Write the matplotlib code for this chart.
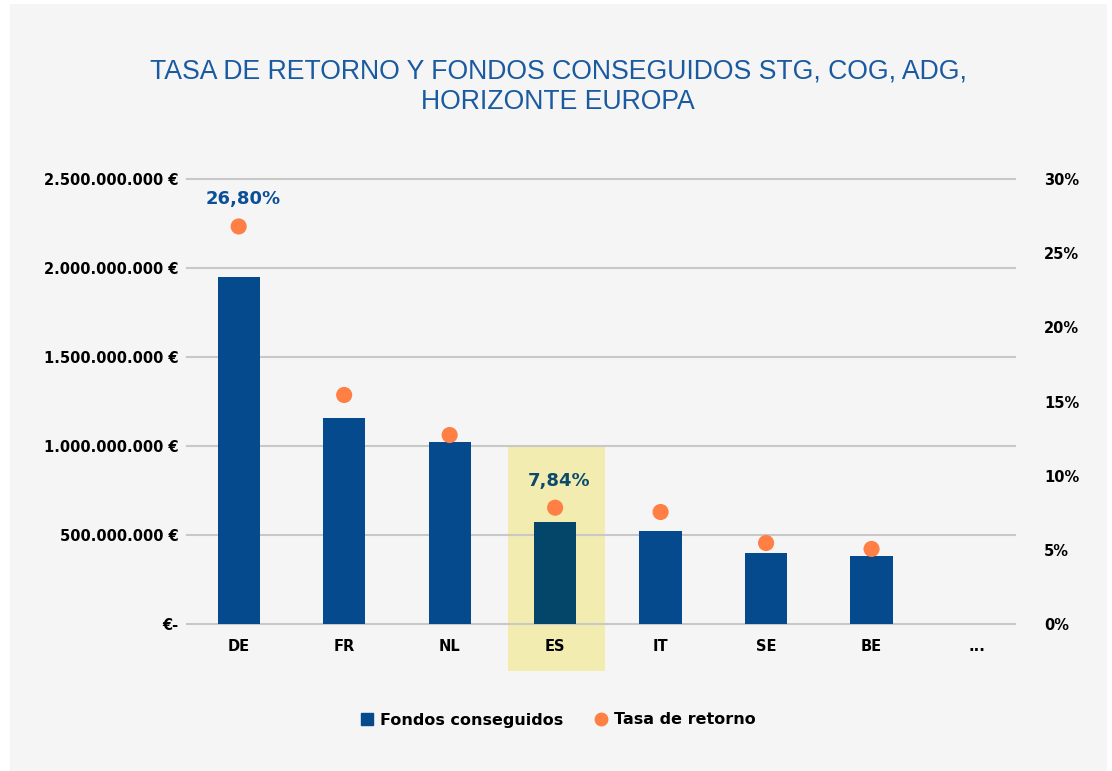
import matplotlib.pyplot as plt
import numpy as np
from matplotlib.patches import Rectangle
from matplotlib.lines import Line2D
from matplotlib.ticker import FuncFormatter

paises = ['DE', 'FR', 'NL', 'ES', 'IT', 'SE', 'BE', '...']
fondos = [1.95e9, 1.157e9, 1.022e9, 0.573e9, 0.522e9, 0.399e9, 0.382e9]
tasa = [26.80, 15.44, 12.74, 7.84, 7.55, 5.46, 5.06]
etiquetas = ['26,80%', '', '', '7,84%', '', '', '']

azul = '#054a8c'
naranja = '#ff7f45'
azul_es = '#04466a'
amarillo = '#f2ecb0'

fig = plt.figure(figsize=(11.12, 7.71), dpi=100)
fig.patches.append(Rectangle((10/1112, 0), 1097/1112, 767/771, transform=fig.transFigure,
                             facecolor='#f5f5f5', edgecolor='none', zorder=-10))

ax = fig.add_axes([187/1112, 1-624/771, 828/1112, 445/771])
ax.patch.set_visible(False)

x = np.arange(len(fondos))
colores = [azul_es if p == 'ES' else azul for p in paises[:len(fondos)]]
ax.bar(x, fondos, width=0.40, color=colores, zorder=2)

# resaltado de ES
i_es = paises.index('ES')
ax.add_patch(Rectangle((i_es - 0.45, -0.264e9), 0.92, 1.258e9, facecolor=amarillo,
                       edgecolor='none', zorder=1, clip_on=False))

ax.set_xlim(-0.49, 7.36)
ax.set_ylim(0, 2.5e9)
ax.set_yticks(np.arange(0, 2.5e9 + 1, 5e8))

def fmt_eur(v, pos):
    if v == 0:
        return '€-'
    return f'{int(v):,}'.replace(',', '.') + ' €'

ax.yaxis.set_major_formatter(FuncFormatter(fmt_eur))
ax.set_xticks(np.arange(len(paises)))
ax.set_xticklabels(paises)
ax.set_axisbelow('line')
ax.yaxis.grid(True, color='#c8c8c8', linewidth=1.5)
for gl in ax.yaxis.get_gridlines():
    gl.set_clip_on(False)
for s in ax.spines.values():
    s.set_visible(False)
ax.tick_params(axis='y', length=0, pad=6, labelsize=10.5)
ax.tick_params(axis='x', length=0, pad=11, labelsize=10.5)
for lbl in ax.get_yticklabels() + ax.get_xticklabels():
    lbl.set_fontweight('bold')

ax2 = ax.twinx()
ax2.scatter(x, tasa, s=135, color=naranja, zorder=3, edgecolors='none')
ax2.set_ylim(0, 30)
ax2.set_yticks(np.arange(0, 31, 5))
ax2.yaxis.set_major_formatter(FuncFormatter(lambda v, p: f'{int(v)}%'))
for s in ax2.spines.values():
    s.set_visible(False)
ax2.tick_params(axis='y', length=0, pad=21, labelsize=10.5)
for lbl in ax2.get_yticklabels():
    lbl.set_fontweight('bold')

for xi, t, e in zip(x, tasa, etiquetas):
    if e:
        c = '#0d4a6a' if paises[xi] == 'ES' else '#0b4f96'
        ax2.annotate(e, (xi, t), xytext=(3, 13), textcoords='offset points',
                     ha='center', va='bottom', fontsize=13, fontweight='bold', color=c)

fig.text(0.502, 1-87/771, 'TASA DE RETORNO Y FONDOS CONSEGUIDOS STG, COG, ADG,\nHORIZONTE EUROPA',
         ha='center', va='center', fontsize=19.2, color='#1a5aa0', family='Liberation Sans',
         linespacing=1.22)

handles = [Line2D([], [], marker='s', linestyle='none', color=azul, markersize=8),
           Line2D([], [], marker='o', linestyle='none', color=naranja, markersize=9)]
leg = fig.legend(handles, ['Fondos conseguidos', 'Tasa de retorno'], loc='center',
                 bbox_to_anchor=(0.502, 1-720/771), ncol=2, frameon=False,
                 handletextpad=0.4, columnspacing=2.0, handlelength=0.8,
                 prop={'weight': 'bold', 'size': 11.5})

fig.savefig('out.png', dpi=100)
